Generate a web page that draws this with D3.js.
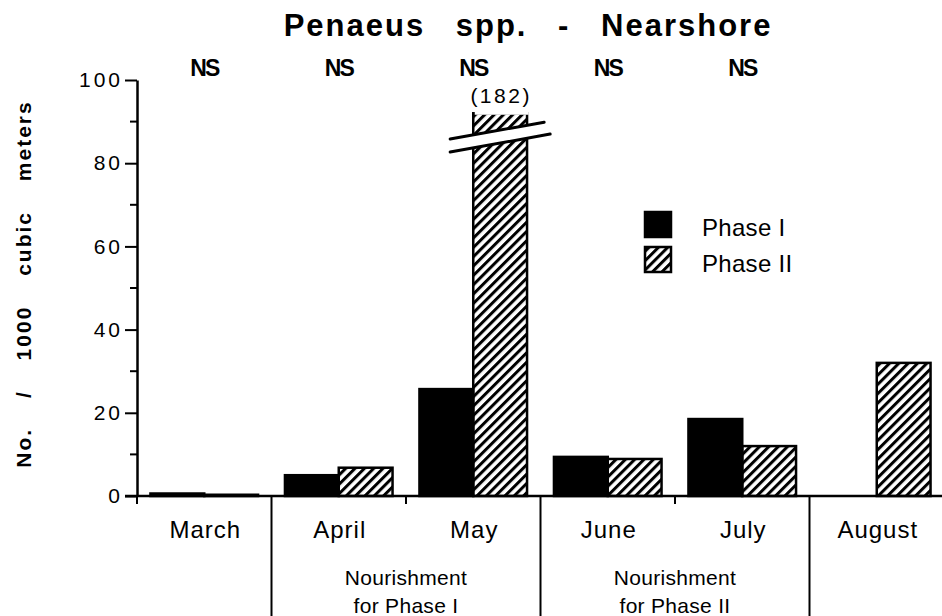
<!DOCTYPE html>
<html>
<head>
<meta charset="utf-8">
<script src="https://cdn.jsdelivr.net/npm/d3@7"></script>
<style>
  html, body { margin: 0; padding: 0; background: #fff; }
  svg { display: block; font-family: "Liberation Sans", Arial, sans-serif; }
</style>
</head>
<body>
<svg id="chart" width="942" height="616"></svg>
<script>
// data
const months = ["March", "April", "May", "June", "July", "August"];
const phases = ["Phase I", "Phase II"];
const phase1 = [0.6, 5.0, 25.7, 9.4, 18.5, 0];
const phase2 = [0.3, 6.8, 182, 8.9, 12.0, 32.0];
const nsLabels = ["NS", "NS", "NS", "NS", "NS", ""];
const yTicks = [0, 20, 40, 60, 80, 100];
const yMinorTicks = [10, 30, 50, 70, 90];
const dividers = ["April", "June", "August"];   // long separators before these months
const groups = [
  { from: "April", to: "May", lines: ["Nourishment", "for Phase I"] },
  { from: "June", to: "July", lines: ["Nourishment", "for Phase II"] }
];
const clipAt = 92;     // top of the broken bar, in axis units
const breakAt = 86.4;  // where the break marks sit

const svg = d3.select("#chart");
const margin = { top: 80, left: 137, bottom: 120 };
const height = 616;

const x = d3.scaleBand()
  .domain(months)
  .range([margin.left, margin.left + 6 * 134.5])
  .paddingInner(0).paddingOuter(0);

const xp = d3.scaleBand()
  .domain(phases)
  .range([0, x.bandwidth()])
  .paddingInner(0).paddingOuter(0.25);

const y = d3.scaleLinear()
  .domain([0, 100])
  .range([height - margin.bottom, margin.top]);

// hatch pattern
const defs = svg.append("defs");
defs.append("pattern")
  .attr("id", "hatch")
  .attr("patternUnits", "userSpaceOnUse")
  .attr("width", 6.6).attr("height", 6.6)
  .attr("patternTransform", "rotate(45)")
  .append("rect")
  .attr("x", 0).attr("y", 0)
  .attr("width", 3).attr("height", 6.6)
  .attr("fill", "#000");

// title
svg.append("text")
  .attr("x", 528).attr("y", 36)
  .attr("text-anchor", "middle")
  .attr("font-size", 31).attr("font-weight", "bold")
  .attr("letter-spacing", 2)
  .attr("word-spacing", 20)
  .text("Penaeus spp. - Nearshore");

// y axis label
svg.append("text")
  .attr("transform", `translate(31,${(y(0) + y(100)) / 2 - 4}) rotate(-90)`)
  .attr("text-anchor", "middle")
  .attr("font-size", 21).attr("font-weight", "bold")
  .attr("letter-spacing", 2)
  .attr("word-spacing", 22)
  .text("No. / 1000 cubic meters");

// y axis
const yAxis = svg.append("g")
  .attr("transform", `translate(${margin.left},0)`)
  .call(d3.axisLeft(y).tickValues(yTicks).tickSize(12).tickPadding(2).tickSizeOuter(0));
yAxis.select(".domain").attr("stroke-width", 2.5);
yAxis.selectAll(".tick line").attr("stroke-width", 2);
yAxis.selectAll(".tick text")
  .attr("font-size", 21).attr("fill", "#000")
  .attr("letter-spacing", 3)
  .attr("font-family", "Liberation Sans, Arial, sans-serif");
svg.append("g")
  .selectAll("line")
  .data(yMinorTicks)
  .join("line")
  .attr("x1", margin.left - 7).attr("x2", margin.left)
  .attr("y1", d => y(d)).attr("y2", d => y(d))
  .attr("stroke", "#000").attr("stroke-width", 2);

// bars
const rows = months.map((m, i) => ({ month: m, values: [phase1[i], phase2[i]] }));
const barG = svg.append("g");
rows.forEach(r => {
  r.values.forEach((v, j) => {
    if (v <= 0) return;
    const shown = Math.min(v, clipAt);
    const x0 = x(r.month) + xp(phases[j]);
    barG.append("rect")
      .attr("x", x0)
      .attr("y", y(shown))
      .attr("width", xp.bandwidth())
      .attr("height", y(0) - y(shown))
      .attr("fill", j === 0 ? "#000" : "url(#hatch)")
      .attr("stroke", "#000")
      .attr("stroke-width", 2.5);
    if (v > 100) {
      const cx = x0 + xp.bandwidth() / 2;
      const yb = y(breakAt);
      const slope = -0.18, half = 50, gap = 6.5;
      const ly = dx => yb + slope * dx;
      // white gap
      barG.append("path")
        .attr("d", `M${cx - half},${ly(-half) - gap} L${cx + half},${ly(half) - gap} L${cx + half},${ly(half) + gap} L${cx - half},${ly(-half) + gap} Z`)
        .attr("fill", "#fff");
      // open top of the broken bar
      barG.append("line")
        .attr("x1", x0 + 1.5).attr("x2", x0 + xp.bandwidth() + 1.5)
        .attr("y1", y(shown)).attr("y2", y(shown))
        .attr("stroke", "#fff").attr("stroke-width", 3);
      [-gap, gap].forEach(o => {
        const right = o < 0 ? half - 6 : half;
        barG.append("line")
          .attr("x1", cx - half).attr("y1", ly(-half) + o)
          .attr("x2", cx + right).attr("y2", ly(right) + o)
          .attr("stroke", "#000").attr("stroke-width", 3).attr("stroke-linecap", "round");
      });
      svg.append("text")
        .attr("x", cx + 1).attr("y", y(clipAt) - 10)
        .attr("text-anchor", "middle")
        .attr("font-size", 21).attr("letter-spacing", 2.5)
        .text(`(${v})`);
    }
  });
});

// x axis baseline
svg.append("line")
  .attr("x1", margin.left - 12).attr("x2", 942)
  .attr("y1", y(0)).attr("y2", y(0))
  .attr("stroke", "#000").attr("stroke-width", 2.5);

// short ticks at band boundaries, long ones as dividers
months.forEach(m => {
  const long = dividers.includes(m);
  svg.append("line")
    .attr("x1", x(m)).attr("x2", x(m))
    .attr("y1", y(0)).attr("y2", long ? height : y(0) + 8)
    .attr("stroke", "#000").attr("stroke-width", 2);
});

// month labels
svg.append("g")
  .selectAll("text")
  .data(months)
  .join("text")
  .attr("x", d => x(d) + x.bandwidth() / 2 + 1)
  .attr("y", 538)
  .attr("text-anchor", "middle")
  .attr("font-size", 24).attr("letter-spacing", 1)
  .text(d => d);

// group labels
groups.forEach(g => {
  const cx = (x(g.from) + x(g.to) + x.bandwidth()) / 2;
  g.lines.forEach((t, k) => {
    svg.append("text")
      .attr("x", cx).attr("y", 585 + k * 28)
      .attr("text-anchor", "middle")
      .attr("font-size", 21).attr("letter-spacing", 0.3)
      .text(t);
  });
});

// NS labels
svg.append("g")
  .selectAll("text")
  .data(months.map((m, i) => ({ m, t: nsLabels[i] })))
  .join("text")
  .attr("x", d => x(d.m) + x.bandwidth() / 2)
  .attr("y", 76)
  .attr("text-anchor", "middle")
  .attr("font-size", 23).attr("font-weight", "bold")
  .attr("letter-spacing", -2)
  .text(d => d.t);

// legend
const legend = svg.append("g").attr("transform", "translate(645,212)");
phases.forEach((p, i) => {
  legend.append("rect")
    .attr("x", 0).attr("y", i * 35)
    .attr("width", 26).attr("height", 25)
    .attr("fill", i === 0 ? "#000" : "url(#hatch)")
    .attr("stroke", "#000").attr("stroke-width", 2.5);
  legend.append("text")
    .attr("x", 57).attr("y", i * 36 + 24)
    .attr("font-size", 24).attr("letter-spacing", 0.3)
    .text(p);
});
</script>
</body>
</html>
